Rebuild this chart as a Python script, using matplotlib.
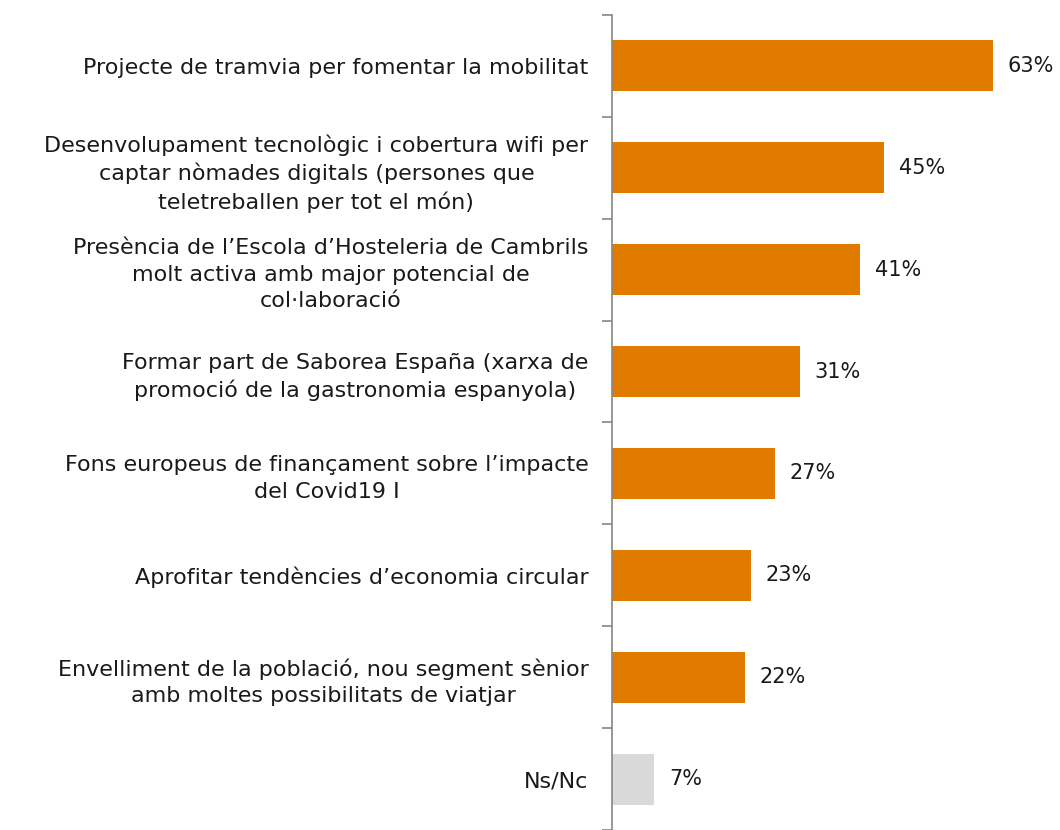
import matplotlib
matplotlib.use("Agg")
import matplotlib.pyplot as plt
import numpy as np

categories = [
    "Projecte de tramvia per fomentar la mobilitat",
    "Desenvolupament tecnològic i cobertura wifi per\ncaptar nòmades digitals (persones que\nteletreballen per tot el món)",
    "Presència de l\u2019Escola d\u2019Hosteleria de Cambrils\nmolt activa amb major potencial de\ncol\u00b7laboració",
    "Formar part de Saborea España (xarxa de\npromoció de la gastronomia espanyola)",
    "Fons europeus de finançament sobre l\u2019impacte\ndel Covid19 I",
    "Aprofitar tendències d\u2019economia circular",
    "Envelliment de la població, nou segment sènior\namb moltes possibilitats de viatjar",
    "Ns/Nc",
]
values = [63, 45, 41, 31, 27, 23, 22, 7]
bar_colors = ["#E07B00"] * 7 + ["#D9D9D9"]

plt.rcParams["font.family"] = ["DejaVu Sans"]

fig = plt.figure(figsize=(10.6, 8.3), dpi=100)
ax = fig.add_axes([612 / 1060, 0.0, 423.5 / 1060, 815 / 830])

y = np.arange(len(categories))
ax.barh(y, values, height=0.5, color=bar_colors)
for yi, v in zip(y, values):
    ax.text(v + 2.4, yi, f"{v}%", va="center", ha="left", fontsize=15, color="#1a1a1a")

ax.set_xlim(0, 70)
ax.set_ylim(len(categories) - 0.5, -0.5)

ax.set_yticks(y)
ax.set_yticklabels(categories, fontsize=16, color="#1a1a1a",
                   multialignment="center", linespacing=1.4)
ax.tick_params(axis="y", which="major", length=0, pad=17)
ax.set_yticks(np.arange(-0.5, len(categories)), minor=True)
ax.tick_params(axis="y", which="minor", length=7, color="#868686", width=1.2)

ax.set_xticks([])
for side in ["top", "right", "bottom"]:
    ax.spines[side].set_visible(False)
ax.spines["left"].set_color("#868686")
ax.spines["left"].set_linewidth(1.2)

fig.savefig("out.png", dpi=100)
